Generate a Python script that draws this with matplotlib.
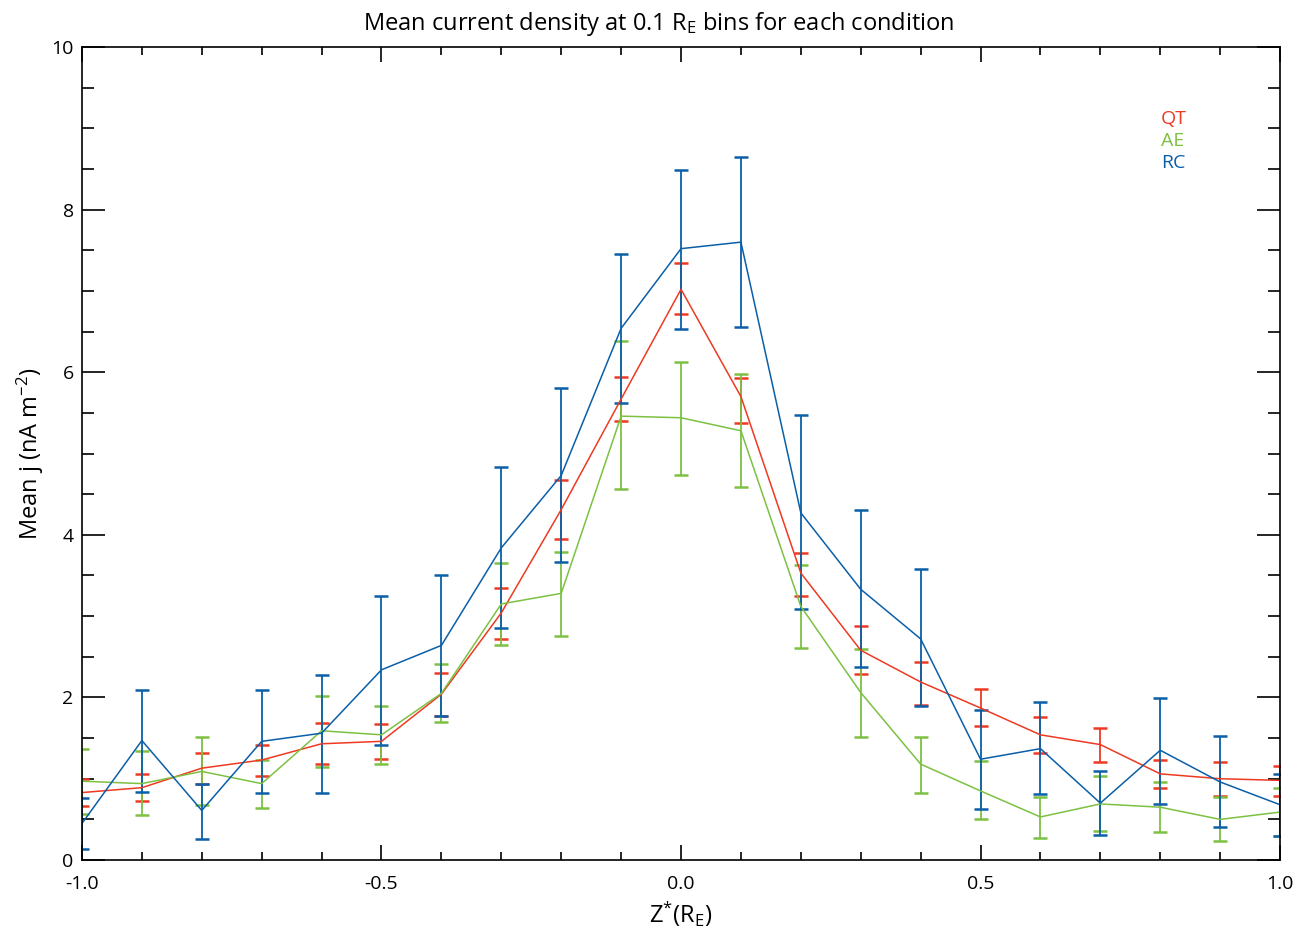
import numpy as np
import matplotlib
matplotlib.use("Agg")
import matplotlib.pyplot as plt
from matplotlib.ticker import MultipleLocator

# --------------------------------------------------------
# Data
# --------------------------------------------------------

z_bins = np.round(np.arange(-1.0, 1.01, 0.1), 1)

qt_mean = [0.83, 0.89, 1.13, 1.23, 1.43, 1.46, 2.04, 3.04, 4.31, 5.67, 7.02,
           5.70, 3.53, 2.58, 2.19, 1.87, 1.54, 1.42, 1.06, 1.00, 0.98]
qt_low = [0.66, 0.73, 0.94, 1.03, 1.18, 1.24, 1.77, 2.72, 3.95, 5.40, 6.72,
          5.38, 3.25, 2.29, 1.91, 1.65, 1.32, 1.21, 0.89, 0.79, 0.79]
qt_high = [1.00, 1.06, 1.32, 1.42, 1.68, 1.67, 2.30, 3.35, 4.68, 5.94, 7.34,
           5.93, 3.78, 2.88, 2.44, 2.10, 1.76, 1.63, 1.23, 1.20, 1.16]

ae_mean = [0.97, 0.94, 1.09, 0.94, 1.59, 1.54, 2.05, 3.15, 3.28, 5.46, 5.44,
           5.28, 3.12, 2.06, 1.18, 0.85, 0.53, 0.69, 0.65, 0.50, 0.59]
ae_low = [0.57, 0.55, 0.68, 0.64, 1.15, 1.18, 1.70, 2.64, 2.76, 4.56, 4.74,
          4.59, 2.61, 1.51, 0.82, 0.51, 0.27, 0.36, 0.34, 0.23, 0.30]
ae_high = [1.37, 1.34, 1.51, 1.23, 2.02, 1.89, 2.41, 3.65, 3.79, 6.38, 6.13,
           5.98, 3.63, 2.59, 1.51, 1.22, 0.78, 1.03, 0.96, 0.77, 0.89]

rc_mean = [0.45, 1.47, 0.61, 1.46, 1.56, 2.34, 2.64, 3.84, 4.73, 6.54, 7.52,
           7.60, 4.27, 3.33, 2.72, 1.24, 1.37, 0.70, 1.35, 0.96, 0.68]
rc_low = [0.13, 0.84, 0.26, 0.83, 0.83, 1.42, 1.77, 2.85, 3.67, 5.62, 6.53,
          6.56, 3.09, 2.38, 1.90, 0.63, 0.81, 0.31, 0.69, 0.41, 0.30]
rc_high = [0.76, 2.09, 0.94, 2.09, 2.28, 3.25, 3.51, 4.84, 5.80, 7.45, 8.49,
           8.65, 5.48, 4.30, 3.58, 1.85, 1.95, 1.09, 1.99, 1.52, 1.06]

series = [
    ("QT", qt_mean, qt_low, qt_high, "#EE3A22"),
    ("AE", ae_mean, ae_low, ae_high, "#7CC142"),
    ("RC", rc_mean, rc_low, rc_high, "#0A5FA8"),
]

# --------------------------------------------------------
# Style
# --------------------------------------------------------

plt.rcParams["font.family"] = ["Open Sans", "DejaVu Sans"]
plt.rcParams["mathtext.default"] = "regular"

fig = plt.figure(figsize=(12.93, 9.33), dpi=100)
ax = fig.add_axes([0.0634, 0.0782, 0.9266, 0.8714])

# --------------------------------------------------------
# Plot
# --------------------------------------------------------

for name, mean, low, high, color in series:
    mean = np.array(mean)
    yerr = [mean - np.array(low), np.array(high) - mean]
    ax.errorbar(z_bins, mean, yerr=yerr, color=color, lw=1.1,
                elinewidth=1.3, capsize=5, capthick=1.8)

for i, (name, _, _, _, color) in enumerate(series):
    ax.text(0.9005, 0.911 - i * 0.027, name, color=color, fontsize=14,
            transform=ax.transAxes, ha="left", va="center")

ax.set_xlim(-1.0, 1.0)
ax.set_ylim(0, 10)

ax.xaxis.set_major_locator(MultipleLocator(0.5))
ax.xaxis.set_minor_locator(MultipleLocator(0.1))
ax.yaxis.set_major_locator(MultipleLocator(2))
ax.yaxis.set_minor_locator(MultipleLocator(0.5))

ax.set_xticks([-1.0, -0.5, 0.0, 0.5, 1.0])
ax.set_xticklabels(["-1.0", "-0.5", "0.0", "0.5", "1.0"])

ax.tick_params(which="both", direction="in", top=True, right=True,
               labelsize=14, width=1.2, color="black")
ax.tick_params(axis="x", which="major", length=11, pad=11)
ax.tick_params(axis="x", which="minor", length=6)
ax.tick_params(axis="y", which="major", length=16.5, pad=6)
ax.tick_params(axis="y", which="minor", length=8.5)

for sp in ax.spines.values():
    sp.set_linewidth(1.2)

ax.set_title("Mean current density at 0.1 R$_E$ bins for each condition",
             fontsize=17, pad=12, x=0.481)
ax.set_xlabel("Z$^{*}$(R$_E$)", fontsize=17, labelpad=4)
ax.set_ylabel("Mean j (nA m$^{-2}$)", fontsize=17, labelpad=4)

fig.savefig("out.png", dpi=100)
plt.close(fig)
